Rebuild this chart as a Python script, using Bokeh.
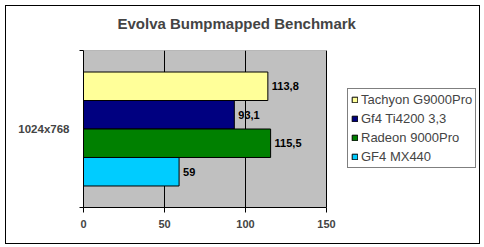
from bokeh.plotting import figure
from bokeh.models import (Range1d, FixedTicker, Legend, LegendItem, ColumnDataSource, Title)
from bokeh.core.properties import value
from bokeh.embed import file_html
from bokeh.resources import INLINE

title = "Evolva Bumpmapped Benchmark"
category = "1024x768"
series = ["Tachyon G9000Pro", "Gf4 Ti4200 3,3", "Radeon 9000Pro", "GF4 MX440"]
values = [113.8, 93.1, 115.5, 59]
labels = ["113,8", "93,1", "115,5", "59"]
colors = ["#FFFF99", "#000080", "#008000", "#00CCFF"]
x_ticks = [0, 50, 100, 150]
x_max = 150

FONT = "Liberation Sans"
bar_h = 0.1815
ys = [0.5 + (1.5 - i) * bar_h for i in range(len(series))]

# frame spans plot area + legend area; the value axis occupies the left 243 of 398 px
frame_w = 398
plot_w = 243
xr_end = x_max * frame_w / plot_w

p = figure(width=475, height=239, output_backend="svg", toolbar_location=None,
           x_range=Range1d(0, xr_end), y_range=Range1d(0, 1),
           min_border_left=77, min_border_right=0, min_border_top=44, min_border_bottom=38,
           margin=(5, 0, 0, 5))
p.styles = {"border": "1px solid black"}
p.background_fill_color = "white"
p.border_fill_color = "white"
p.outline_line_color = None

# grey plot area
bg = p.quad(left=[0], right=[x_max], bottom=[0], top=[1], fill_color="#C0C0C0",
            line_color="#808080", line_width=1)
bg.level = "image"

p.xgrid.ticker = FixedTicker(ticks=x_ticks)
p.xgrid.grid_line_color = "black"
p.xgrid.grid_line_width = 1
p.ygrid.grid_line_color = None

p.xaxis.ticker = FixedTicker(ticks=x_ticks)
p.xaxis.bounds = (0, x_max)
p.xaxis.axis_line_color = "black"
p.xaxis.major_tick_out = 5
p.xaxis.major_tick_in = 0
p.xaxis.minor_tick_line_color = None
p.xaxis.major_label_text_font = FONT
p.xaxis.major_label_text_font_style = "bold"
p.xaxis.major_label_text_font_size = "11px"
p.xaxis.major_label_standoff = 7

p.yaxis.ticker = FixedTicker(ticks=[0.5], minor_ticks=[0, 1])
p.yaxis.major_label_overrides = {0.5: category}
p.yaxis.major_tick_out = 0
p.yaxis.major_tick_in = 0
p.yaxis.minor_tick_out = 4
p.yaxis.minor_tick_in = 0
p.yaxis.minor_tick_line_color = "black"
p.yaxis.axis_line_color = "black"
p.yaxis.major_label_text_font = FONT
p.yaxis.major_label_text_font_style = "bold"
p.yaxis.major_label_text_font_size = "11.5px"
p.yaxis.major_label_standoff = 10

renderers = []
for i, s in enumerate(series):
    src = ColumnDataSource(dict(y=[ys[i]], right=[values[i]], lbl=[labels[i]]))
    r = p.hbar(y="y", right="right", left=0, height=bar_h, source=src,
               fill_color=colors[i], line_color="black", line_width=1)
    renderers.append(r)
    p.text(x="right", y="y", text="lbl", source=src, x_offset=4,
           text_baseline="middle", text_align="left", text_font=value(FONT),
           text_font_style="bold", text_font_size="11px", text_color="black")

legend = Legend(items=[LegendItem(label=s, renderers=[r]) for s, r in zip(series, renderers)],
                location=(264, 39))
legend.label_text_font = FONT
legend.label_text_font_size = "13px"
legend.glyph_width = 7
legend.glyph_height = 7
legend.label_height = 12
legend.label_standoff = 3
legend.spacing = 4
legend.padding = 3
legend.margin = 0
legend.border_line_color = "black"
legend.border_line_width = 1
p.add_layout(legend, "center")

# blank spacer title between the chart title and the plot area
p.add_layout(Title(text=" ", text_font_size="15px", standoff=0), "above")

p.title.text = title
p.title.align = "left"
p.title.offset = 34
p.title.text_font = FONT
p.title.text_font_style = "bold"
p.title.text_font_size = "15px"
p.title.standoff = 0

open("out.html", "w").write(file_html(p, INLINE))
